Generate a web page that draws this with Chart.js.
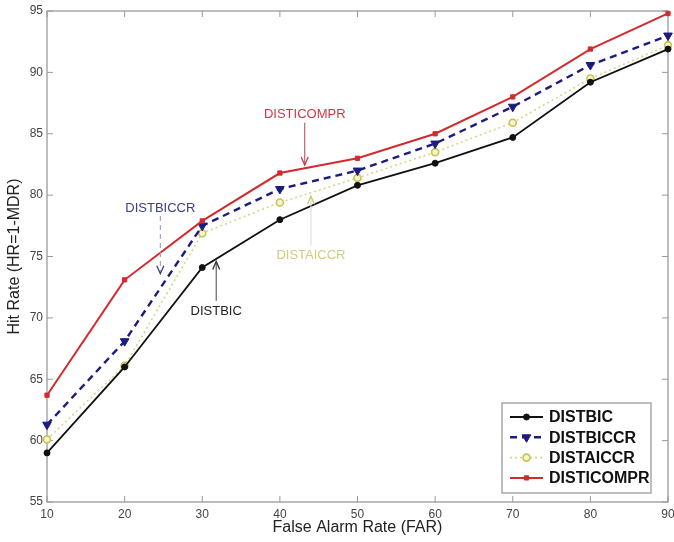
<!DOCTYPE html>
<html>
<head>
<meta charset="utf-8">
<script src="https://cdn.jsdelivr.net/npm/chart.js@4/dist/chart.umd.min.js"></script>
<style>
  html, body { margin: 0; padding: 0; background: #ffffff; }
  #wrap { width: 674px; height: 542px; position: relative; }
</style>
</head>
<body>
<div id="wrap"><canvas id="c" width="674" height="542"></canvas></div>
<script>
// ---- data ----
const farValues = [10, 20, 30, 40, 50, 60, 70, 80, 90];
const distBIC    = [59.0, 66.0, 74.1, 78.0, 80.8, 82.6, 84.7, 89.2, 91.9];
const distBICCR  = [61.3, 68.1, 77.5, 80.5, 82.0, 84.2, 87.2, 90.6, 93.0];
const distAICCR  = [60.1, 66.1, 76.9, 79.4, 81.4, 83.5, 85.9, 89.5, 92.2];
const distICOMPR = [63.7, 73.1, 77.9, 81.8, 83.0, 85.0, 88.0, 91.9, 94.8];
const seriesNames = ['DISTBIC', 'DISTBICCR', 'DISTAICCR', 'DISTICOMPR'];
const xTicks = [10, 20, 30, 40, 50, 60, 70, 80, 90];
const yTicks = [55, 60, 65, 70, 75, 80, 85, 90, 95];

// annotation labels (data coordinates): text position, arrow start/end
const noteText  = ['DISTICOMPR', 'DISTBICCR', 'DISTAICCR', 'DISTBIC'];
const noteTextX = [43.2, 24.6, 44.0, 31.8];
const noteTextY = [86.55, 78.9, 75.1, 70.55];
const noteArrX  = [43.2, 24.6, 44.0, 31.8];
const noteArrY0 = [85.9, 78.3, 75.9, 71.4];
const noteArrY1 = [82.45, 73.6, 79.9, 74.6];

const toPts = (ys) => ys.map((y, i) => ({ x: farValues[i], y }));

const styles = [
  { color: '#111111', width: 1.8, dash: [], point: 'circle', r: 3, fill: '#111111', bw: 1, rot: 0 },
  { color: '#1c1c80', width: 2.4, dash: [7, 5], point: 'triangle', r: 5, fill: '#1c1c80', bw: 1, rot: 180 },
  { color: '#d6d68a', width: 1.6, dash: [2, 3], point: 'circle', r: 3.5, fill: '#f4f4d0', bw: 1.6, rot: 0, pcolor: '#c8c250' },
  { color: '#d42a2e', width: 2, dash: [], point: 'rect', r: 3, fill: '#d42a2e', bw: 1, rot: 0 }
];
const noteStyles = [
  { text: '#cc3a48', arrow: '#b55560', head: '#cc3a48', dash: [] },
  { text: '#3d3d8a', arrow: '#9a9ac4', head: '#3d3d8a', dash: [5, 4] },
  { text: '#cfcf7a', arrow: '#dcdcd0', head: '#c8c870', dash: [] },
  { text: '#222222', arrow: '#555555', head: '#333333', dash: [] }
];

const allSeries = [distBIC, distBICCR, distAICCR, distICOMPR];
const datasets = allSeries.map((s, i) => {
  const st = styles[i];
  return {
    label: seriesNames[i],
    data: toPts(s),
    borderColor: st.color,
    borderWidth: st.width,
    borderDash: st.dash,
    pointStyle: st.point,
    pointRadius: st.r,
    pointRotation: st.rot,
    pointBackgroundColor: st.fill,
    pointBorderColor: st.pcolor || st.color,
    pointBorderWidth: st.bw,
    tension: 0,
    fill: false,
    clip: false,
    order: [3, 2, 4, 1][i]
  };
});

const framePlugin = {
  id: 'frame',
  beforeDatasetsDraw(chart) {
    const { ctx, chartArea: a, scales } = chart;
    ctx.save();
    ctx.strokeStyle = '#9a9a9a';
    ctx.lineWidth = 1.3;
    ctx.strokeRect(a.left, a.top, a.right - a.left, a.bottom - a.top);
    ctx.lineWidth = 1;
    ctx.beginPath();
    xTicks.forEach(v => {
      const px = scales.x.getPixelForValue(v);
      ctx.moveTo(px, a.bottom); ctx.lineTo(px, a.bottom - 6);
      ctx.moveTo(px, a.top); ctx.lineTo(px, a.top + 6);
    });
    yTicks.forEach(v => {
      const py = scales.y.getPixelForValue(v);
      ctx.moveTo(a.left, py); ctx.lineTo(a.left + 6, py);
      ctx.moveTo(a.right, py); ctx.lineTo(a.right - 6, py);
    });
    ctx.stroke();
    ctx.restore();
  }
};

const notesPlugin = {
  id: 'notes',
  afterDatasetsDraw(chart) {
    const { ctx, scales } = chart;
    ctx.save();
    ctx.font = '13px "Liberation Sans", Arial, sans-serif';
    ctx.textAlign = 'center';
    ctx.textBaseline = 'middle';
    noteText.forEach((t, i) => {
      const ns = noteStyles[i];
      const tx = scales.x.getPixelForValue(noteTextX[i]);
      const ty = scales.y.getPixelForValue(noteTextY[i]);
      ctx.fillStyle = ns.text;
      ctx.fillText(t, tx, ty);
      const ax = scales.x.getPixelForValue(noteArrX[i]);
      const y0 = scales.y.getPixelForValue(noteArrY0[i]);
      const y1 = scales.y.getPixelForValue(noteArrY1[i]);
      ctx.strokeStyle = ns.arrow;
      ctx.lineWidth = 1.1;
      ctx.setLineDash(ns.dash);
      ctx.beginPath(); ctx.moveTo(ax, y0); ctx.lineTo(ax, y1); ctx.stroke();
      ctx.setLineDash([]);
      const dir = y1 > y0 ? 1 : -1;
      ctx.strokeStyle = ns.head;
      ctx.lineWidth = 1.3;
      ctx.beginPath();
      ctx.moveTo(ax - 3.5, y1 - dir * 8);
      ctx.lineTo(ax, y1);
      ctx.lineTo(ax + 3.5, y1 - dir * 8);
      ctx.stroke();
    });
    ctx.restore();
  }
};

const legendPlugin = {
  id: 'boxLegend',
  afterDraw(chart) {
    const { ctx, chartArea: a } = chart;
    const right = a.right - 17, bottom = a.bottom - 9;
    const w = 149, h = 90;
    const left = right - w, top = bottom - h;
    ctx.save();
    ctx.fillStyle = '#ffffff';
    ctx.fillRect(left, top, w, h);
    ctx.strokeStyle = '#9a9a9a';
    ctx.lineWidth = 1.3;
    ctx.strokeRect(left, top, w, h);
    ctx.font = 'bold 16px "Liberation Sans", Arial, sans-serif';
    ctx.textBaseline = 'middle';
    ctx.textAlign = 'left';
    datasets.forEach((ds, i) => {
      const st = styles[i];
      const y = top + 14 + i * 20.3;
      const x0 = left + 8, x1 = left + 41, xm = (x0 + x1) / 2;
      ctx.strokeStyle = st.color;
      ctx.lineWidth = st.width;
      ctx.setLineDash(st.dash);
      ctx.beginPath(); ctx.moveTo(x0, y); ctx.lineTo(x1, y); ctx.stroke();
      ctx.setLineDash([]);
      ctx.fillStyle = st.fill;
      ctx.strokeStyle = st.pcolor || st.color;
      ctx.lineWidth = st.bw;
      Chart.helpers.drawPoint(ctx, { pointStyle: st.point, radius: st.r, rotation: st.rot, borderWidth: st.bw }, xm, y);
      ctx.fillStyle = '#111111';
      ctx.fillText(ds.label, left + 47, y + 1);
    });
    ctx.restore();
  }
};

new Chart(document.getElementById('c'), {
  type: 'line',
  data: { datasets },
  options: {
    responsive: false,
    animation: false,
    devicePixelRatio: 1,
    layout: { padding: { top: 11, right: 4, bottom: 0, left: 0 } },
    plugins: { legend: { display: false }, tooltip: { enabled: false } },
    scales: {
      x: {
        type: 'linear', min: 10, max: 90,
        afterBuildTicks(scale) { scale.ticks = xTicks.map(v => ({ value: v })); },
        afterFit(scale) { scale.height = 40; scale.paddingLeft = 0; scale.paddingRight = 0; },
        ticks: { font: { size: 12, family: '"Liberation Sans", Arial, sans-serif' }, color: '#444444', padding: 5, maxRotation: 0, autoSkip: false },
        grid: { display: false, drawTicks: false },
        border: { display: false },
        title: { display: true, text: 'False Alarm Rate (FAR)', font: { size: 16, family: '"Liberation Sans", Arial, sans-serif' }, color: '#222222', padding: { top: 0, bottom: 5 } }
      },
      y: {
        type: 'linear', min: 55, max: 95,
        afterBuildTicks(scale) { scale.ticks = yTicks.map(v => ({ value: v })); },
        afterFit(scale) { scale.width = 47; scale.paddingTop = 0; scale.paddingBottom = 0; },
        ticks: { font: { size: 12, family: '"Liberation Sans", Arial, sans-serif' }, color: '#444444', padding: 4, autoSkip: false },
        grid: { display: false, drawTicks: false },
        border: { display: false },
        title: { display: true, text: 'Hit Rate (HR=1-MDR)', font: { size: 16, family: '"Liberation Sans", Arial, sans-serif' }, color: '#222222', padding: { top: 5, bottom: 0 } }
      }
    }
  },
  plugins: [framePlugin, notesPlugin, legendPlugin]
});
</script>
</body>
</html>
